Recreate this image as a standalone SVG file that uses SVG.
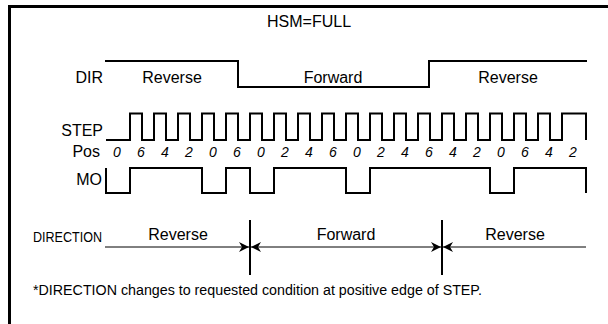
<svg xmlns="http://www.w3.org/2000/svg" width="608" height="324" viewBox="0 0 608 324">
<style>
text{font-family:"Liberation Sans",Arial,sans-serif;fill:#000}
.lbl{font-size:16px}
.num{font-size:14px;font-style:italic;text-anchor:middle}
.mid{text-anchor:middle}
.end{text-anchor:end}
.wave{fill:none;stroke:#000;stroke-width:2}
.dim{fill:none;stroke:#000;stroke-width:1}
.bar{stroke:#000;stroke-width:2}
</style>
<defs>
<marker id="ah" viewBox="0 0 10 10" refX="10" refY="5" markerWidth="10" markerHeight="10" markerUnits="userSpaceOnUse" orient="auto-start-reverse">
<path d="M0,0 L10,5 L0,10 L3,5 z" fill="#000"/>
</marker>
</defs>
<rect width="608" height="324" fill="#fff"/>
<path d="M9.5,324 V6.5 H608" fill="none" stroke="#000" stroke-width="3"/>
<text class="lbl" x="267" y="27">HSM=FULL</text>
<g id="dir">
<text class="lbl end" x="103" y="83">DIR</text>
<path class="wave" d="M105,61 H238 V87 H429 V61 H587"/>
<text class="lbl mid" x="172" y="83">Reverse</text>
<text class="lbl mid" x="333" y="83">Forward</text>
<text class="lbl mid" x="508" y="83">Reverse</text>
</g>
<g id="step">
<text class="lbl end" x="103" y="136">STEP</text>
<path class="wave" d="M106,140 H130 V113.5 H142 V140 H154 V113.5 H166 V140 H178 V113.5 H190 V140 H202 V113.5 H214 V140 H226 V113.5 H238 V140 H250 V113.5 H262 V140 H274 V113.5 H286 V140 H298 V113.5 H310 V140 H322 V113.5 H334 V140 H346 V113.5 H358 V140 H370 V113.5 H382 V140 H394 V113.5 H406 V140 H418 V113.5 H430 V140 H442 V113.5 H454 V140 H466 V113.5 H478 V140 H490 V113.5 H502 V140 H514 V113.5 H526 V140 H538 V113.5 H550 V140 H562 V113.5 H586 V140"/>
</g>
<g id="pos">
<text class="lbl end" x="100" y="157">Pos</text>
<text class="num" y="157"><tspan x="117">0</tspan><tspan x="141">6</tspan><tspan x="165">4</tspan><tspan x="189">2</tspan><tspan x="213">0</tspan><tspan x="237">6</tspan><tspan x="261">0</tspan><tspan x="285">2</tspan><tspan x="309">4</tspan><tspan x="333">6</tspan><tspan x="357">0</tspan><tspan x="381">2</tspan><tspan x="405">4</tspan><tspan x="429">6</tspan><tspan x="453">4</tspan><tspan x="477">2</tspan><tspan x="501">0</tspan><tspan x="525">6</tspan><tspan x="549">4</tspan><tspan x="573">2</tspan></text>
</g>
<g id="mo">
<text class="lbl end" x="102" y="185">MO</text>
<path class="wave" d="M106,168 V193 H130 V168 H202 V193 H226 V168 H250 V193 H274 V168 H346 V193 H370 V168 H490 V193 H514 V168 H586 V193"/>
</g>
<g id="direction">
<text x="33" y="242" font-size="14" textLength="69" lengthAdjust="spacingAndGlyphs">DIRECTION</text>
<text class="lbl mid" x="178" y="240">Reverse</text>
<text class="lbl mid" x="346" y="240">Forward</text>
<text class="lbl mid" x="515" y="240">Reverse</text>
</g>
<g id="connectors">
<line class="dim" x1="105" y1="247" x2="249" y2="247" marker-end="url(#ah)"/>
<line class="dim" x1="251" y1="247" x2="441" y2="247" marker-start="url(#ah)" marker-end="url(#ah)"/>
<line class="dim" x1="443" y1="247" x2="586" y2="247" marker-start="url(#ah)"/>
<line class="bar" x1="250" y1="220" x2="250" y2="275"/>
<line class="bar" x1="442" y1="220" x2="442" y2="275"/>
</g>
<text x="33" y="295" font-size="14" textLength="449" lengthAdjust="spacingAndGlyphs">*DIRECTION changes to requested condition at positive edge of STEP.</text>
</svg>
